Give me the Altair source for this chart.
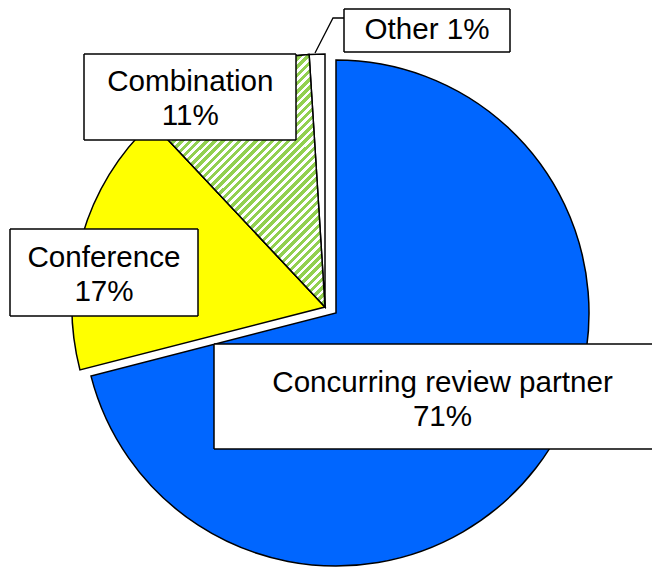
import altair as alt
import pandas as pd

# ---- data ----
CATEGORIES = ["Concurring review partner", "Conference", "Combination", "Other"]
VALUES = [71, 17, 11, 1]

# ---- styles / layout ----
COLORS = ["#0066FF", "#FFFF00", "#C8E6A8", "#FFFFFF"]
GREEN = "#92D050"
RADIUS = 253
CENTER_MAIN = (328, 305)      # exploded slice centre (chart px)
CENTER_REST = (317, 299)      # remaining slices centre (chart px)
FONT = "Liberation Sans"
FSIZE = 29.6
W, H = 644, 562

# label boxes: x1, x2, y1, y2, text centre x, baseline line1, baseline line2
LABEL_BOX = {
    "Concurring review partner": (206, 700, 336, 441, 434.5, 383.7, 417.7),
    "Conference": (2, 190, 221, 308, 96, 258.5, 292.7),
    "Combination": (76, 288, 46, 132, 182.3, 82.7, 117.0),
    "Other": (336, 502, 1, 44, 419, 31.3, None),
}
LEADER_X = [336, 325, 307]
LEADER_Y = [10, 10, 45]

starts, ends, acc = [], [], 0
for v in VALUES:
    starts.append(acc)
    acc += v
    ends.append(acc)
df = pd.DataFrame({"category": CATEGORIES, "value": VALUES, "start": starts, "end": ends})

theta = alt.Theta("start:Q", scale=alt.Scale(domain=[0, 100], range=[0, 6.283185307179586]))
theta2 = alt.Theta2("end:Q")
color = alt.Color("category:N", scale=alt.Scale(domain=CATEGORIES, range=COLORS), legend=None)

main = alt.Chart(df).transform_filter(alt.datum.category == CATEGORIES[0]).mark_arc(
    radius=RADIUS, stroke="black", strokeWidth=1.5
).encode(theta=theta, theta2=theta2, color=color,
         x=alt.value(CENTER_MAIN[0]), y=alt.value(CENTER_MAIN[1]))

rest = alt.Chart(df).transform_filter(alt.datum.category != CATEGORIES[0]).mark_arc(
    radius=RADIUS, stroke="black", strokeWidth=1.5
).encode(theta=theta, theta2=theta2, color=color,
         x=alt.value(CENTER_REST[0]), y=alt.value(CENTER_REST[1]))

# striped fill for Combination slice
N = 52
stops = []
for i in range(N):
    a = i / N
    b = (i + 0.55) / N
    c = (i + 1) / N
    stops += [alt.GradientStop(offset=a, color=GREEN), alt.GradientStop(offset=b, color=GREEN),
              alt.GradientStop(offset=b, color="#FFFFFF"), alt.GradientStop(offset=c, color="#FFFFFF")]
stripes = alt.LinearGradient(gradient="linear", stops=stops, x1=0, y1=0, x2=0.786, y2=1.147)

combo = alt.Chart(df).transform_filter(alt.datum.category == "Combination").mark_arc(
    radius=RADIUS, stroke="black", strokeWidth=1.5, fill=stripes
).encode(theta=theta, theta2=theta2,
         x=alt.value(CENTER_REST[0]), y=alt.value(CENTER_REST[1]))

# labels
rows, trows = [], []
for cat, val in zip(CATEGORIES, VALUES):
    x1, x2, y1, y2, tx, b1, b2 = LABEL_BOX[cat]
    rows.append({"x1": x1, "x2": x2, "y1": y1, "y2": y2})
    if b2 is None:
        trows.append({"tx": tx, "ty": b1, "t": f"{cat} {val}%"})
    else:
        trows.append({"tx": tx, "ty": b1, "t": cat})
        trows.append({"tx": tx, "ty": b2, "t": f"{val}%"})
boxes_df = pd.DataFrame(rows)
text_df = pd.DataFrame(trows)
leader_df = pd.DataFrame({"lx": LEADER_X, "ly": LEADER_Y, "o": [0, 1, 2]})

# box borders as separate segments (top, bottom, left, right if on canvas)
seg = []
for r in rows:
    xr = min(r["x2"], W + 20)
    seg += [
        {"sx": r["x1"], "sx2": xr, "sy": r["y1"], "sy2": r["y1"]},
        {"sx": r["x1"], "sx2": xr, "sy": r["y2"], "sy2": r["y2"]},
        {"sx": r["x1"], "sx2": r["x1"], "sy": r["y1"], "sy2": r["y2"]},
    ]
    if r["x2"] <= W:
        seg.append({"sx": r["x2"], "sx2": r["x2"], "sy": r["y1"], "sy2": r["y2"]})
seg_df = pd.DataFrame(seg)

leader = alt.Chart(leader_df).mark_line(color="black", strokeWidth=1.3).encode(
    x=alt.X("lx:Q", scale=None), y=alt.Y("ly:Q", scale=None), order="o:Q")

boxes = alt.Chart(boxes_df).mark_rect(fill="white").encode(
    x=alt.X("x1:Q", scale=None), x2="x2:Q", y=alt.Y("y1:Q", scale=None), y2="y2:Q")

borders = alt.Chart(seg_df).mark_rule(color="black", strokeWidth=1.5).encode(
    x=alt.X("sx:Q", scale=None), x2="sx2:Q", y=alt.Y("sy:Q", scale=None), y2="sy2:Q")

texts = alt.Chart(text_df).mark_text(font=FONT, fontSize=FSIZE, color="black",
                                      align="center", baseline="alphabetic").encode(
    x=alt.X("tx:Q", scale=None), y=alt.Y("ty:Q", scale=None), text="t:N")

chart = alt.layer(main, rest, combo, leader, boxes, borders, texts).properties(
    width=W, height=H, padding=0, autosize="none", background="white"
).configure_view(stroke=None)

chart.save("out.html", embed_options={"renderer": "svg", "actions": False})
